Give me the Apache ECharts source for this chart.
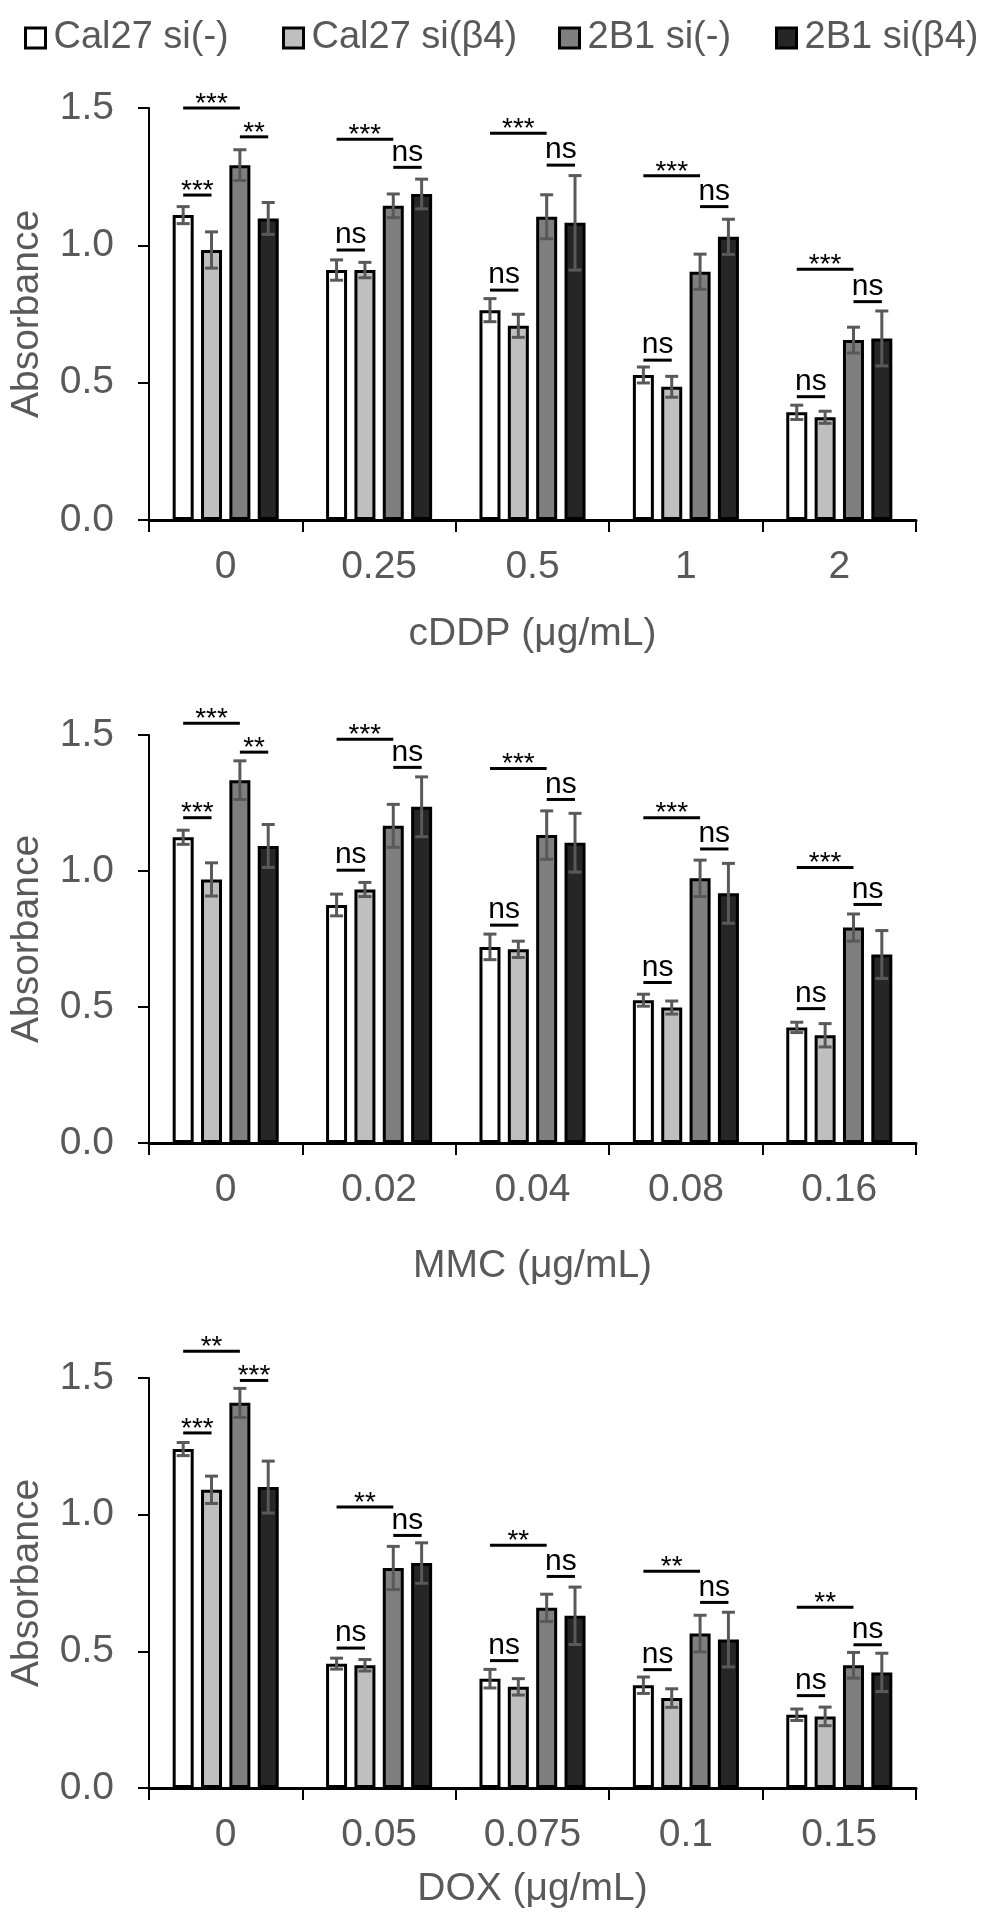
<!DOCTYPE html>
<html>
<head>
<meta charset="utf-8">
<script src="https://cdn.jsdelivr.net/npm/echarts@6/dist/echarts.min.js"></script>
<style>
html, body { margin: 0; padding: 0; background: #fff; }
#chart { width: 986px; height: 1916px; }
</style>
</head>
<body>
<div id="chart"></div>
<script>
var seriesNames = ['Cal27 si(-)', 'Cal27 si(β4)', '2B1 si(-)', '2B1 si(β4)'];

// cDDP panel
var cddpCats = ['0', '0.25', '0.5', '1', '2'];
var cddpMean = [
	[1.110, 0.910, 0.764, 0.528, 0.392],
	[0.983, 0.910, 0.707, 0.485, 0.374],
	[1.292, 1.144, 1.104, 0.904, 0.655],
	[1.098, 1.187, 1.082, 1.031, 0.661]
];
var cddpSd = [
	[0.031, 0.037, 0.042, 0.029, 0.026],
	[0.066, 0.028, 0.042, 0.038, 0.022],
	[0.056, 0.043, 0.080, 0.064, 0.047],
	[0.058, 0.054, 0.172, 0.064, 0.100]
];
// [category, from bar, to bar, height, label]
var cddpSig = [
	[0, 0, 2, 1.500, '***'], [0, 2, 3, 1.395, '**'], [0, 0, 1, 1.183, '***'],
	[1, 0, 2, 1.386, '***'], [1, 2, 3, 1.284, 'ns'], [1, 0, 1, 0.983, 'ns'],
	[2, 0, 2, 1.408, '***'], [2, 2, 3, 1.292, 'ns'], [2, 0, 1, 0.837, 'ns'],
	[3, 0, 2, 1.253, '***'], [3, 2, 3, 1.141, 'ns'], [3, 0, 1, 0.582, 'ns'],
	[4, 0, 2, 0.913, '***'], [4, 2, 3, 0.795, 'ns'], [4, 0, 1, 0.449, 'ns']
];

// MMC panel
var mmcCats = ['0', '0.02', '0.04', '0.08', '0.16'];
var mmcMean = [
	[1.124, 0.875, 0.721, 0.525, 0.425],
	[0.969, 0.932, 0.712, 0.498, 0.396],
	[1.334, 1.166, 1.132, 0.973, 0.792],
	[1.092, 1.236, 1.104, 0.918, 0.693]
];
var mmcSd = [
	[0.026, 0.040, 0.047, 0.022, 0.019],
	[0.061, 0.026, 0.030, 0.024, 0.043],
	[0.071, 0.079, 0.089, 0.067, 0.050],
	[0.079, 0.110, 0.108, 0.110, 0.088]
];
var mmcSig = [
	[0, 0, 2, 1.543, '***'], [0, 2, 3, 1.437, '**'], [0, 0, 1, 1.196, '***'],
	[1, 0, 2, 1.484, '***'], [1, 2, 3, 1.381, 'ns'], [1, 0, 1, 1.003, 'ns'],
	[2, 0, 2, 1.377, '***'], [2, 2, 3, 1.263, 'ns'], [2, 0, 1, 0.801, 'ns'],
	[3, 0, 2, 1.196, '***'], [3, 2, 3, 1.081, 'ns'], [3, 0, 1, 0.590, 'ns'],
	[4, 0, 2, 1.013, '***'], [4, 2, 3, 0.877, 'ns'], [4, 0, 1, 0.494, 'ns']
];

// DOX panel
var doxCats = ['0', '0.05', '0.075', '0.1', '0.15'];
var doxMean = [
	[1.240, 0.455, 0.400, 0.376, 0.268],
	[1.091, 0.449, 0.370, 0.329, 0.262],
	[1.409, 0.805, 0.659, 0.565, 0.449],
	[1.101, 0.823, 0.630, 0.543, 0.423]
];
var doxSd = [
	[0.024, 0.020, 0.034, 0.030, 0.021],
	[0.050, 0.021, 0.030, 0.034, 0.034],
	[0.053, 0.079, 0.050, 0.067, 0.047],
	[0.095, 0.074, 0.105, 0.100, 0.070]
];
var doxSig = [
	[0, 0, 2, 1.598, '**'], [0, 2, 3, 1.491, '***'], [0, 0, 1, 1.299, '***'],
	[1, 0, 2, 1.028, '**'], [1, 2, 3, 0.924, 'ns'], [1, 0, 1, 0.512, 'ns'],
	[2, 0, 2, 0.888, '**'], [2, 2, 3, 0.774, 'ns'], [2, 0, 1, 0.466, 'ns'],
	[3, 0, 2, 0.793, '**'], [3, 2, 3, 0.679, 'ns'], [3, 0, 1, 0.433, 'ns'],
	[4, 0, 2, 0.661, '**'], [4, 2, 3, 0.524, 'ns'], [4, 0, 1, 0.338, 'ns']
];

var FONT = '"Liberation Sans", Arial, sans-serif';
var GREY_TEXT = '#595959';
var barColors = ['#ffffff', '#bfbfbf', '#7f7f7f', '#262626'];
var BAR_W = 21;
var BAR_GAP = 0.35;
var STEP = BAR_W * (1 + BAR_GAP);
var CAP = 6.5;

function barOffset(k) {
	return (k - 1.5) * STEP;
}

var panels = [
	{ cats: cddpCats, mean: cddpMean, sd: cddpSd, sig: cddpSig, name: 'cDDP (μg/mL)', top: 108, height: 412, nameGap: 95 },
	{ cats: mmcCats, mean: mmcMean, sd: mmcSd, sig: mmcSig, name: 'MMC (μg/mL)', top: 735, height: 408, nameGap: 104 },
	{ cats: doxCats, mean: doxMean, sd: doxSd, sig: doxSig, name: 'DOX (μg/mL)', top: 1378, height: 410, nameGap: 82 }
];

var grid = [], xAxis = [], yAxis = [], series = [];

panels.forEach(function(p, i) {
	grid.push({ left: 142, right: 70, top: p.top, height: p.height });
	xAxis.push({
		type: 'category',
		gridIndex: i,
		data: p.cats,
		axisLine: { lineStyle: { color: '#000', width: 3 } },
		axisTick: { show: true, length: 12, lineStyle: { color: '#000', width: 2 } },
		axisLabel: { margin: 28, fontSize: 39, color: GREY_TEXT, fontFamily: FONT },
		name: p.name,
		nameLocation: 'middle',
		nameGap: p.nameGap,
		nameTextStyle: { fontSize: 39, color: GREY_TEXT, fontFamily: FONT }
	});
	yAxis.push({
		type: 'value',
		gridIndex: i,
		min: 0,
		max: 1.5,
		interval: 0.5,
		axisLine: { show: true, lineStyle: { color: '#000', width: 2 } },
		axisTick: { show: true, length: 11, lineStyle: { color: '#000', width: 2 } },
		splitLine: { show: false },
		axisLabel: {
			margin: 35, fontSize: 39, color: GREY_TEXT, fontFamily: FONT,
			formatter: function(v) { return v.toFixed(1); }
		},
		name: 'Absorbance',
		nameLocation: 'middle',
		nameGap: 102,
		nameTextStyle: { fontSize: 39, color: GREY_TEXT, fontFamily: FONT }
	});

	seriesNames.forEach(function(n, k) {
		series.push({
			name: n,
			type: 'bar',
			xAxisIndex: i,
			yAxisIndex: i,
			data: p.mean[k],
			barWidth: BAR_W,
			barGap: (BAR_GAP * 100) + '%',
			itemStyle: { color: barColors[k], borderColor: '#000', borderWidth: 3 },
			emphasis: { disabled: true },
			z: 2
		});
	});

	// error bars, mean +/- sd
	var errData = [];
	p.mean.forEach(function(row, k) {
		row.forEach(function(v, c) {
			errData.push([c, k, v, p.sd[k][c]]);
		});
	});
	series.push({
		type: 'custom',
		xAxisIndex: i,
		yAxisIndex: i,
		data: errData,
		encode: { x: 0, y: 2 },
		z: 5,
		clip: false,
		silent: true,
		renderItem: function(params, api) {
			var c = api.value(0), k = api.value(1), m = api.value(2), s = api.value(3);
			var top = api.coord([c, m + s]);
			var bot = api.coord([c, m - s]);
			var x = top[0] + barOffset(k);
			var style = { stroke: '#595959', lineWidth: 3 };
			return {
				type: 'group',
				children: [
					{ type: 'line', shape: { x1: x, y1: top[1], x2: x, y2: bot[1] }, style: style },
					{ type: 'line', shape: { x1: x - CAP, y1: top[1], x2: x + CAP, y2: top[1] }, style: style },
					{ type: 'line', shape: { x1: x - CAP, y1: bot[1], x2: x + CAP, y2: bot[1] }, style: style }
				]
			};
		}
	});

	// significance brackets
	series.push({
		type: 'custom',
		xAxisIndex: i,
		yAxisIndex: i,
		data: p.sig.map(function(s) { return [s[0], s[3]]; }),
		encode: { x: 0, y: 1 },
		z: 6,
		clip: false,
		silent: true,
		renderItem: function(params, api) {
			var s = p.sig[params.dataIndex];
			var pt = api.coord([api.value(0), api.value(1)]);
			var x1 = pt[0] + barOffset(s[1]);
			var x2 = pt[0] + barOffset(s[2]);
			var isNs = s[4] === 'ns';
			return {
				type: 'group',
				children: [
					{ type: 'line', shape: { x1: x1, y1: pt[1], x2: x2, y2: pt[1] }, style: { stroke: '#000', lineWidth: 3 } },
					{
						type: 'text',
						x: (x1 + x2) / 2,
						y: pt[1] - (isNs ? 15 : 4),
						style: {
							text: s[4],
							fill: '#000',
							fontSize: isNs ? 30 : 28,
							fontFamily: FONT,
							align: 'center',
							verticalAlign: 'middle'
						}
					}
				]
			};
		}
	});
});

var legendLefts = [19, 277, 553, 770];
var legend = seriesNames.map(function(n, k) {
	return {
		data: [n],
		left: legendLefts[k],
		top: 14,
		icon: 'rect',
		itemWidth: 20,
		itemHeight: 20,
		itemStyle: { borderColor: '#000', borderWidth: 3 },
		textStyle: { fontSize: 38, color: GREY_TEXT, fontFamily: FONT, padding: [0, 0, 0, 3] },
		selectedMode: false
	};
});

var chart = echarts.init(document.getElementById('chart'), null, { renderer: 'canvas' });
chart.setOption({
	animation: false,
	backgroundColor: '#fff',
	legend: legend,
	grid: grid,
	xAxis: xAxis,
	yAxis: yAxis,
	series: series
});
</script>
</body>
</html>
